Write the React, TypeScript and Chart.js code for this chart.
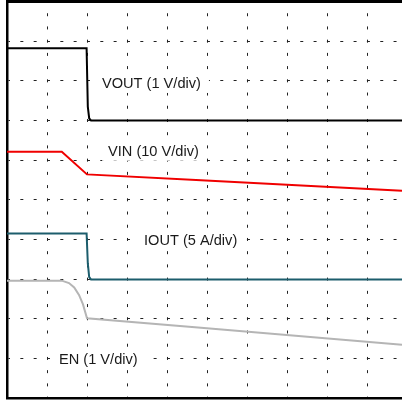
import React, { useEffect, useRef } from "react";
import { Chart, registerables } from "chart.js";

Chart.register(...registerables);

// Time axis in divisions (0..9.875 visible), vertical axis in divisions (0..10)
const voutX = [0, 1.99, 2.02, 2.055, 2.1, 9.875];
const voutY = [8.82, 8.82, 7.35, 7.05, 7.0, 7.0];

const vinX = [0, 1.37, 2.0, 4.85, 9.875];
const vinY = [6.21, 6.21, 5.64, 5.49, 5.23];

const ioutX = [0, 1.99, 2.02, 2.055, 2.1, 9.875];
const ioutY = [4.15, 4.15, 3.4, 3.05, 2.99, 2.99];

const enX = [0, 1.37, 1.55, 1.68, 1.8, 1.9, 2.0, 4.85, 9.875];
const enY = [2.96, 2.96, 2.9, 2.79, 2.6, 2.36, 2.01, 1.77, 1.34];

const labelTexts = ["VOUT (1 V/div)", "VIN (10 V/div)", "IOUT (5 A/div)", "EN (1 V/div)"];
const labelX = [2.375, 2.525, 3.425, 1.3];
const labelY = [7.82, 6.11, 3.86, 0.86];

const xMin = 0;
const xMax = 9.875;
const yMin = 0;
const yMax = 10;

const pts = (xs: number[], ys: number[]) => xs.map((x, i) => ({ x, y: ys[i] }));

const labelPlugin = {
  id: "traceLabels",
  beforeDatasetsDraw(chart: any) {
    const { ctx, scales } = chart;
    ctx.save();
    ctx.font = "14.6px 'Liberation Sans', Arial, Helvetica, sans-serif";
    ctx.fillStyle = "#ffffff";
    labelTexts.forEach((t, i) => {
      const x = scales.x.getPixelForValue(labelX[i]);
      const y = scales.y.getPixelForValue(labelY[i]);
      const w = ctx.measureText(t).width;
      ctx.fillRect(x - 6, y - 15, w + 14, 20);
    });
    ctx.restore();
  },
  afterDatasetsDraw(chart: any) {
    const { ctx, scales } = chart;
    ctx.save();
    ctx.fillStyle = "#1a1a1a";
    ctx.font = "14.6px 'Liberation Sans', Arial, Helvetica, sans-serif";
    ctx.textAlign = "left";
    ctx.textBaseline = "alphabetic";
    labelTexts.forEach((t, i) => {
      ctx.fillText(t, scales.x.getPixelForValue(labelX[i]), scales.y.getPixelForValue(labelY[i]));
    });
    ctx.restore();
  },
};

export default function App() {
  const ref = useRef<HTMLCanvasElement | null>(null);
  useEffect(() => {
    if (!ref.current) return;
    const common = { pointRadius: 0, tension: 0, fill: false };
    const chart = new Chart(ref.current, {
      type: "line",
      data: {
        datasets: [
          { ...common, label: "EN", data: pts(enX, enY), borderColor: "#b5b5b5", borderWidth: 2 },
          { ...common, label: "IOUT", data: pts(ioutX, ioutY), borderColor: "#1c5d6c", borderWidth: 2 },
          { ...common, label: "VIN", data: pts(vinX, vinY), borderColor: "#f00000", borderWidth: 2 },
          { ...common, label: "VOUT", data: pts(voutX, voutY), borderColor: "#000000", borderWidth: 2 },
        ],
      },
      options: {
        animation: false,
        responsive: false,
        devicePixelRatio: 1,
        layout: { padding: { left: 7, top: 1.5, right: 0, bottom: 4 } },
        plugins: { legend: { display: false }, tooltip: { enabled: false } },
        scales: {
          x: {
            type: "linear",
            position: "bottom",
            min: xMin,
            max: xMax,
            ticks: { display: false, stepSize: 1, includeBounds: false },
            grid: { color: "#222", lineWidth: 1, drawTicks: false },
            border: { display: true, color: "#000", width: 2.5, dash: [3, 10.22], dashOffset: 1.5 },
          },
          x2: {
            type: "linear",
            position: "top",
            min: xMin,
            max: xMax,
            ticks: { display: false },
            grid: { display: false, drawTicks: false },
            border: { display: true, color: "#000", width: 3 },
          },
          y: {
            type: "linear",
            position: "left",
            min: yMin,
            max: yMax,
            ticks: { display: false, stepSize: 1 },
            grid: { color: "#222", lineWidth: 1, drawTicks: false },
            border: { display: true, color: "#000", width: 2.5, dash: [3, 10.33], dashOffset: 1.5 },
          },
        },
      } as any,
      plugins: [labelPlugin],
    });
    return () => chart.destroy();
  }, []);
  return (
    <div style={{ position: "absolute", left: 0, top: 0, width: 402, height: 402, background: "#fff" }}>
      <canvas ref={ref} width={402} height={402} style={{ display: "block" }} />
    </div>
  );
}
